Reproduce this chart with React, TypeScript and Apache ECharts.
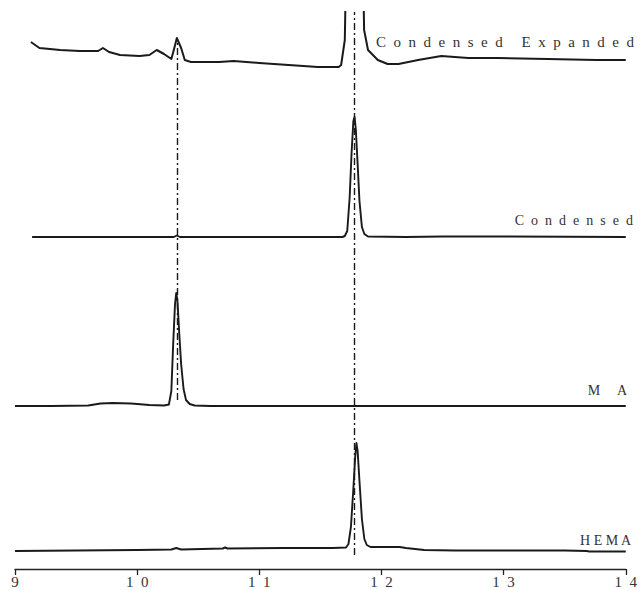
import React, { useEffect, useRef } from "react";
import * as echarts from "echarts";

// x: retention time, y: detector response in plot units (stacked traces)
const xTicks = [9, 10, 11, 12, 13, 14];
const tickLabels = ["9", "1  0", "1  1", "1  2", "1  3", "1  4"];

const expandedData: [number, number][] = [
  [9.13, 527], [9.2, 521], [9.37, 519], [9.53, 518], [9.68, 518], [9.72, 521],
  [9.77, 517], [9.86, 514], [10.02, 513], [10.1, 514], [10.16, 519], [10.22, 515],
  [10.28, 510], [10.3, 519], [10.325, 531], [10.36, 521], [10.39, 509], [10.44, 507],
  [10.67, 507], [10.79, 508], [11.0, 506], [11.24, 504], [11.48, 502], [11.65, 502],
  [11.67, 504], [11.7, 529], [11.71, 600], [11.85, 600], [11.858, 539], [11.89, 519],
  [11.97, 509], [12.05, 505], [12.14, 505], [12.3, 509], [12.49, 513], [12.71, 511],
  [12.95, 511], [13.36, 510], [13.76, 509], [14.0, 509],
];

const condensedData: [number, number][] = [
  [9.14, 332], [10.3, 332], [10.325, 333.5], [10.35, 332], [11.0, 332], [11.5, 332],
  [11.68, 332], [11.7, 333], [11.72, 338], [11.74, 372], [11.755, 415], [11.77, 448],
  [11.78, 452], [11.79, 440], [11.805, 405], [11.82, 368], [11.84, 342], [11.86, 335],
  [11.89, 332.5], [12.2, 332], [12.5, 332.5], [13.0, 332.5], [14.0, 332],
];

const maData: [number, number][] = [
  [9.0, 163], [9.3, 163], [9.6, 163.5], [9.7, 165.5], [9.8, 166], [9.95, 165.5],
  [10.1, 164], [10.22, 163.5], [10.26, 164.5], [10.28, 178], [10.295, 225], [10.31, 265],
  [10.32, 276], [10.33, 268], [10.345, 235], [10.36, 205], [10.38, 180], [10.4, 169],
  [10.43, 165], [10.47, 163.5], [10.6, 163], [11.0, 163], [11.5, 163], [12.0, 163],
  [13.0, 163], [14.0, 163],
];

const hemaData: [number, number][] = [
  [9.0, 18], [9.5, 18.5], [10.0, 19], [10.28, 19.5], [10.32, 21], [10.36, 19.5],
  [10.7, 20.5], [10.72, 21.5], [10.74, 20.5], [11.2, 21], [11.6, 21], [11.71, 21.5],
  [11.73, 25], [11.75, 42], [11.77, 80], [11.785, 112], [11.795, 126], [11.805, 118],
  [11.82, 88], [11.84, 50], [11.86, 30], [11.88, 24], [11.91, 22], [12.0, 22],
  [12.15, 22], [12.2, 21], [12.35, 19], [12.6, 18.5], [13.0, 18.5], [13.5, 18.5],
  [13.68, 18], [13.7, 17.5], [14.0, 17.5],
];

const guideX = [10.325, 11.78];
const guideFrom = [169, 14];
const guideTo = [527, 557];

const traceLabels = [
  "C  o  n  d  e  n  s  e  d     E  x  p  a  n  d  e  d",
  "C  o  n  d  e  n  s  e  d",
  "M     A",
  "H E M A",
];
const labelRight = [634, 633, 627, 631];
const labelY = [42, 220, 390, 540];
const labelSize = [15, 14, 14, 14];

export default function App() {
  const ref = useRef<HTMLDivElement>(null);
  useEffect(() => {
    document.body.style.margin = "0";
    if (!ref.current) return;
    const chart = echarts.init(ref.current, undefined, { renderer: "svg" });
    const font = "'Liberation Serif', 'DejaVu Serif', serif";
    const lineColor = "#1a1a1a";
    const mkSeries = (data: [number, number][], width: number) => ({
      type: "line",
      data,
      showSymbol: false,
      symbol: "none",
      clip: true,
      lineStyle: { color: lineColor, width, join: "round" },
      silent: true,
    });
    chart.setOption({
      animation: false,
      backgroundColor: "#ffffff",
      grid: { left: 15, right: 11, top: 12, bottom: 21 },
      xAxis: {
        type: "value",
        min: 9,
        max: 14,
        interval: 1,
        axisLine: { lineStyle: { color: "#222", width: 1.3 } },
        axisTick: { show: true, length: 6, lineStyle: { color: "#222", width: 1.3 } },
        splitLine: { show: false },
        axisLabel: {
          margin: 5,
          color: "#333",
          fontFamily: font,
          fontSize: 15,
          formatter: (v: number) => {
            const i = xTicks.indexOf(Math.round(v));
            return i >= 0 ? tickLabels[i] : "";
          },
        },
      },
      yAxis: { type: "value", min: 0, max: 557, show: false },
      series: [
        mkSeries(expandedData, 2),
        mkSeries(condensedData, 1.9),
        mkSeries(maData, 1.9),
        mkSeries(hemaData, 1.9),
        {
          type: "line",
          data: [],
          silent: true,
          markLine: {
            silent: true,
            symbol: ["none", "none"],
            label: { show: false },
            lineStyle: { color: "#1a1a1a", width: 1.4, type: [7, 3, 2, 3] },
            data: guideX.map((x, i) => [
              { coord: [x, guideFrom[i]] },
              { coord: [x, guideTo[i]] },
            ]),
          },
        },
      ],
      graphic: traceLabels.map((t, i) => ({
        type: "text",
        x: labelRight[i],
        y: labelY[i],
        silent: true,
        style: {
          text: t,
          align: "right",
          verticalAlign: "middle",
          fill: "#333",
          fontFamily: font,
          fontSize: labelSize[i],
        },
      })),
    });
    return () => chart.dispose();
  }, []);
  return <div ref={ref} style={{ width: 640, height: 590 }} />;
}
